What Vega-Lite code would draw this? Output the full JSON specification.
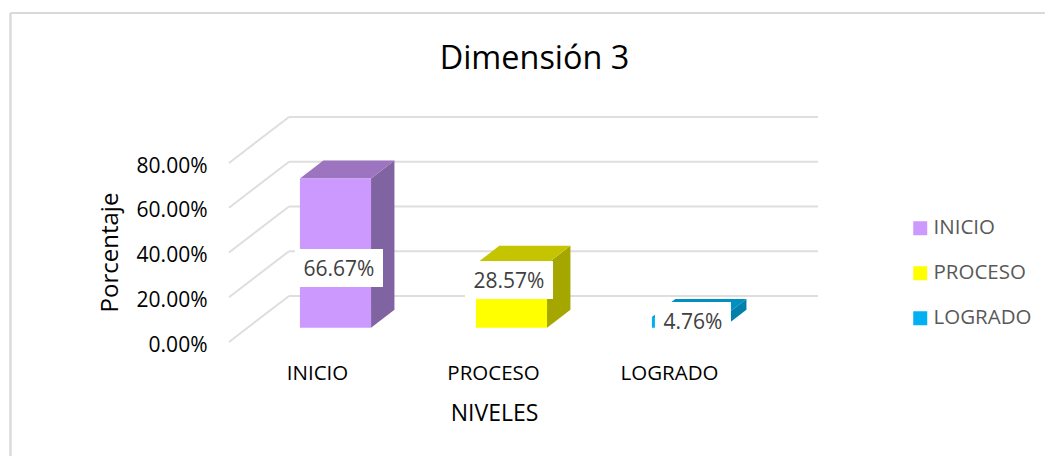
{
"$schema":"https://vega.github.io/schema/vega-lite/v6.json",
"width":589,"height":225,
"autosize":{"type":"none"},
"padding":{"left":229,"top":117,"right":227,"bottom":114},
"background":"white",
"config":{"view":{"stroke":null},"font":"Open Sans"},
"title":{"text":"Dimensión 3","font":"Open Sans","fontSize":32.4,"fontWeight":"normal","color":"#000000","anchor":"middle","frame":"group","dx":11,"dy":63,"offset":0},
"data":{"values":[{"nivel":"INICIO","valor":0.6667},{"nivel":"PROCESO","valor":0.2857},{"nivel":"LOGRADO","valor":0.0476}]},
"transform":[
{"calculate":"indexof(['INICIO','PROCESO','LOGRADO'],datum.nivel)","as":"i"},
{"calculate":"datum.i+0.403","as":"x0"},
{"calculate":"datum.i+0.807","as":"x1"},
{"calculate":"0.0639","as":"y0"},
{"calculate":"0.0639+datum.valor","as":"y1"},
{"calculate":"[0.625,1.591,2.636][datum.i]","as":"lx"},
{"calculate":"[0.3307,0.277,0.0939][datum.i]","as":"ly"},
{"calculate":"[0.25,0.25,0.216][datum.i]","as":"bw"},
{"calculate":"datum.lx-datum.bw","as":"bx0"},
{"calculate":"datum.lx+datum.bw","as":"bx1"},
{"calculate":"datum.ly-0.0849","as":"by0"},
{"calculate":"datum.ly+0.0849","as":"by1"}
],
"resolve":{"scale":{"color":"independent"}},
"layer":[
{"mark":{"type":"rule","color":"#D9D9D9","strokeWidth":1.6},
 "encoding":{"x":{"datum":-1.2415,"type":"quantitative","scale":{"domain":[0,3.3466],"nice":false,"zero":false},
   "axis":{"values":[0.5,1.5,2.5],"labelExpr":"['INICIO','PROCESO','LOGRADO'][floor(datum.value)]","title":"NIVELES","grid":false,"domain":false,"ticks":false,"labelFont":"Open Sans","labelFontSize":20.5,"labelColor":"#000000","labelPadding":21,"labelAngle":0,"titleFont":"Open Sans","titleFontSize":23,"titleFontWeight":"normal","titleColor":"#000000","titleX":265,"titleY":71,"titleBaseline":"middle","titleAnchor":"middle","titleAlign":"center"}},
 "x2":{"datum":-1.2415},
 "y":{"datum":1.4704,"type":"quantitative","scale":{"domain":[0,1.0056],"nice":false,"zero":false},
   "axis":{"values":[0,0.2,0.4,0.6,0.8],"format":".2%","title":"Porcentaje","grid":false,"domain":false,"ticks":false,"labelFont":"Open Sans","labelFontSize":21,"labelColor":"#000000","labelPadding":22,"labelOffset":3,"titleFont":"Open Sans","titleFontSize":24,"titleFontWeight":"normal","titleColor":"#000000","titleX":-119,"titleY":135,"titleAngle":270,"titleBaseline":"middle","titleAlign":"center"}},
 "y2":{"datum":-0.51}}},
{"mark":{"type":"rule","color":"#D9D9D9","strokeWidth":1.6},
 "encoding":{"x":{"datum":-1.2415,"type":"quantitative","scale":{"domain":[0,3.3466],"nice":false,"zero":false}},"x2":{"datum":4.64},"y":{"datum":1.4704,"type":"quantitative","scale":{"domain":[0,1.0056],"nice":false,"zero":false}}}},
{"data":{"values":[{"g":0},{"g":0.2},{"g":0.4},{"g":0.6},{"g":0.8}]},
 "transform":[{"calculate":"datum.g+0.2056","as":"gb"}],
 "mark":{"type":"rule","color":"#DEDEDE","strokeWidth":2},
 "encoding":{"x":{"datum":0,"type":"quantitative","scale":{"domain":[0,3.3466],"nice":false,"zero":false}},"x2":{"datum":0.341},"y":{"field":"g","type":"quantitative","scale":{"domain":[0,1.0056],"nice":false,"zero":false}},"y2":{"field":"gb"}}},
{"data":{"values":[{"g":0},{"g":0.2},{"g":0.4},{"g":0.6},{"g":0.8}]},
 "transform":[{"calculate":"datum.g+0.2056","as":"gb"}],
 "mark":{"type":"rule","color":"#DEDEDE","strokeWidth":2},
 "encoding":{"x":{"datum":0.341,"type":"quantitative","scale":{"domain":[0,3.3466],"nice":false,"zero":false}},"x2":{"datum":3.3466},"y":{"field":"gb","type":"quantitative","scale":{"domain":[0,1.0056],"nice":false,"zero":false}}}},
{"transform":[{"calculate":"[0,1]","as":"t"},{"flatten":["t"]},{"calculate":"datum.x1+datum.t*0.133","as":"sx"},{"calculate":"datum.y0+datum.t*0.0804","as":"sy0"},{"calculate":"datum.y1+datum.t*0.0804","as":"sy1"}],
 "mark":{"type":"area","interpolate":"linear"},
 "encoding":{"x":{"field":"sx","type":"quantitative","scale":{"domain":[0,3.3466],"nice":false,"zero":false}},"y":{"field":"sy0","type":"quantitative","stack":null,"scale":{"domain":[0,1.0056],"nice":false,"zero":false}},"y2":{"field":"sy1"},
 "color":{"field":"nivel","type":"nominal","legend":null,"scale":{"domain":["INICIO","PROCESO","LOGRADO"],"range":["#8064A2","#A6A600","#0080AB"]}}}},
{"transform":[{"calculate":"[0,1]","as":"t"},{"flatten":["t"]},{"calculate":"datum.x0+datum.t*0.133","as":"tx0"},{"calculate":"datum.x1+datum.t*0.133","as":"tx1"},{"calculate":"datum.y1+datum.t*0.0804","as":"ty"}],
 "mark":{"type":"area","orient":"horizontal","interpolate":"linear"},
 "encoding":{"y":{"field":"ty","type":"quantitative","scale":{"domain":[0,1.0056],"nice":false,"zero":false}},"x":{"field":"tx0","type":"quantitative","stack":null,"scale":{"domain":[0,3.3466],"nice":false,"zero":false}},"x2":{"field":"tx1"},
 "color":{"field":"nivel","type":"nominal","legend":null,"scale":{"domain":["INICIO","PROCESO","LOGRADO"],"range":["#9C74BF","#C4C400","#0090BF"]}}}},
{"mark":{"type":"rect"},
 "encoding":{"x":{"field":"x0","type":"quantitative","scale":{"domain":[0,3.3466],"nice":false,"zero":false}},
 "x2":{"field":"x1"},
 "y":{"field":"y0","type":"quantitative","scale":{"domain":[0,1.0056],"nice":false,"zero":false}},
 "y2":{"field":"y1"},
 "color":{"field":"nivel","type":"nominal","scale":{"domain":["INICIO","PROCESO","LOGRADO"],"range":["#CC99FF","#FFFF00","#00B0F0"]},
   "legend":{"title":null,"orient":"none","legendX":681,"legendY":101,"symbolType":"square","symbolSize":196,"symbolStrokeWidth":0,"labelFont":"Open Sans","labelFontSize":20.5,"labelColor":"#595959","labelOffset":3,"labelLimit":200,"rowPadding":24,"padding":0}}}},
{"mark":{"type":"rect","color":"white"},
 "encoding":{"x":{"field":"bx0","type":"quantitative","scale":{"domain":[0,3.3466],"nice":false,"zero":false}},"x2":{"field":"bx1"},"y":{"field":"by0","type":"quantitative","scale":{"domain":[0,1.0056],"nice":false,"zero":false}},"y2":{"field":"by1"}}},
{"mark":{"type":"text","font":"Open Sans","fontSize":21,"color":"#404040","align":"center","baseline":"middle","dy":2},
 "encoding":{"x":{"field":"lx","type":"quantitative","scale":{"domain":[0,3.3466],"nice":false,"zero":false}},"y":{"field":"ly","type":"quantitative","scale":{"domain":[0,1.0056],"nice":false,"zero":false}},"text":{"field":"valor","type":"quantitative","format":".2%"}}}
]
}
